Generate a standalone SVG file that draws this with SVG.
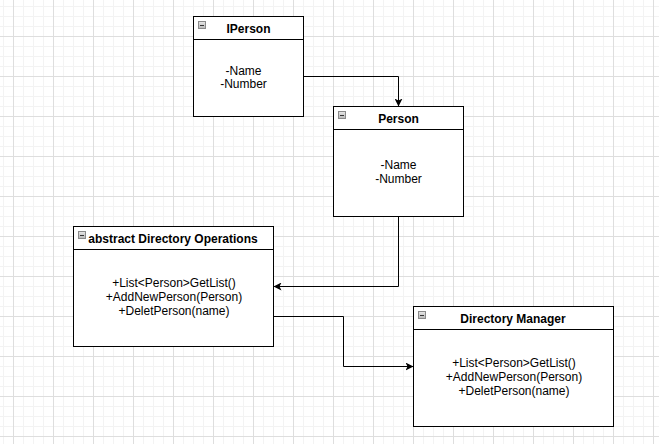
<svg xmlns="http://www.w3.org/2000/svg" width="659" height="444" viewBox="0 0 659 444">
<defs>
<pattern id="grid" patternUnits="userSpaceOnUse" x="13" y="-4" width="40" height="40">
<rect x="0" y="0" width="40" height="40" fill="#ffffff"/>
<g fill="#f3f3f3">
<rect x="10" y="0" width="1" height="40"/><rect x="20" y="0" width="1" height="40"/><rect x="30" y="0" width="1" height="40"/>
<rect x="0" y="10" width="40" height="1"/><rect x="0" y="20" width="40" height="1"/><rect x="0" y="30" width="40" height="1"/>
</g>
<g fill="#dedede">
<rect x="0" y="0" width="1" height="40"/><rect x="0" y="0" width="40" height="1"/>
</g>
</pattern>
<linearGradient id="ig" x1="0" y1="0" x2="0" y2="1">
<stop offset="0" stop-color="#e8e8e8"/><stop offset="1" stop-color="#b8b8b8"/>
</linearGradient>
<marker id="arr" markerUnits="userSpaceOnUse" viewBox="0 0 8 8" refX="8" refY="4" markerWidth="8" markerHeight="8" orient="auto">
<path d="M0,0 L8,4 L0,8 L2,4 Z" fill="#000"/>
</marker>
</defs>
<style>
.box{fill:#fff;stroke:#000;stroke-width:1}
.hdr{stroke:#000;stroke-width:1}
.ico{fill:url(#ig);stroke:#8a8a8a;stroke-width:1}
.dash{stroke:#333;stroke-width:1}
.t{font-family:"Liberation Sans",Arial,sans-serif;font-size:12px;fill:#000;text-anchor:middle}
.tb{font-weight:bold}
.edge{fill:none;stroke:#000;stroke-width:1;marker-end:url(#arr)}
</style>
<rect x="0" y="0" width="659" height="444" fill="url(#grid)"/>

<g id="edges">
<path class="edge" d="M303.5,76.5 H398.5 V106.5"/>
<path class="edge" d="M398.5,216.5 V286.5 H273.5"/>
<path class="edge" d="M273.5,316.5 H343.5 V366.5 H413.5"/>
</g>

<g id="IPerson">
<rect class="box" x="193.5" y="16.5" width="110" height="100"/>
<line class="hdr" x1="193.5" y1="39.5" x2="303.5" y2="39.5"/>
<rect class="ico" x="198.5" y="21.5" width="7" height="7"/>
<line class="dash" x1="200" y1="25.5" x2="204" y2="25.5"/>
<text class="t tb" x="248.5" y="32.5">IPerson</text>
<text class="t" x="243.5" y="74.5">-Name</text>
<text class="t" x="243.5" y="88">-Number</text>
</g>

<g id="Person">
<rect class="box" x="333.5" y="106.5" width="130" height="110"/>
<line class="hdr" x1="333.5" y1="129.5" x2="463.5" y2="129.5"/>
<rect class="ico" x="338.5" y="111.5" width="7" height="7"/>
<line class="dash" x1="340" y1="115.5" x2="344" y2="115.5"/>
<text class="t tb" x="398.5" y="122.5">Person</text>
<text class="t" x="398.5" y="168.5">-Name</text>
<text class="t" x="398.5" y="182.5">-Number</text>
</g>

<g id="DirectoryOperations">
<rect class="box" x="73.5" y="226.5" width="200" height="120"/>
<line class="hdr" x1="73.5" y1="249.5" x2="273.5" y2="249.5"/>
<rect class="ico" x="78.5" y="231.5" width="7" height="7"/>
<line class="dash" x1="80" y1="235.5" x2="84" y2="235.5"/>
<text class="t tb" x="173" y="242.5">abstract Directory Operations</text>
<text class="t" x="174" y="286.5">+List&lt;Person&gt;GetList()</text>
<text class="t" x="174" y="300.5">+AddNewPerson(Person)</text>
<text class="t" x="174" y="314.5">+DeletPerson(name)</text>
</g>

<g id="DirectoryManager">
<rect class="box" x="413.5" y="306.5" width="200" height="120"/>
<line class="hdr" x1="413.5" y1="329.5" x2="613.5" y2="329.5"/>
<rect class="ico" x="418.5" y="311.5" width="7" height="7"/>
<line class="dash" x1="420" y1="315.5" x2="424" y2="315.5"/>
<text class="t tb" x="513" y="322.5">Directory Manager</text>
<text class="t" x="514" y="366.5">+List&lt;Person&gt;GetList()</text>
<text class="t" x="514" y="380.5">+AddNewPerson(Person)</text>
<text class="t" x="514" y="394.5">+DeletPerson(name)</text>
</g>
</svg>
